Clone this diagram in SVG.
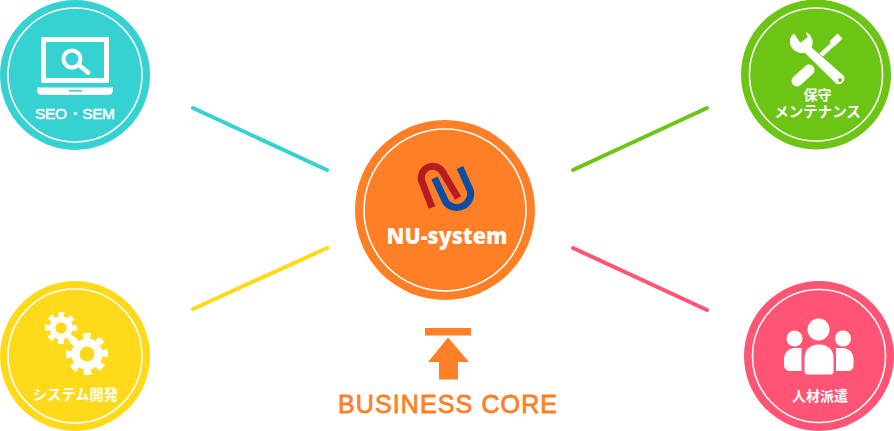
<svg xmlns="http://www.w3.org/2000/svg" width="894" height="431" viewBox="0 0 894 431">
<style>
.ring{fill:none;stroke:#fff;stroke-width:1.6}
.lbl{font-family:"Noto Sans CJK JP","Noto Sans",sans-serif;font-weight:700;font-size:14px;fill:#fff;text-anchor:middle}
.con{fill:none;stroke-width:4;stroke-linecap:round}
.w{fill:#fff}
.ln{fill:none;stroke:#fff;stroke-linecap:round}
</style>
<rect width="894" height="431" fill="#fff"/>
<g id="connectors">
<line class="con" x1="193" y1="108" x2="327" y2="170" stroke="#36D1D1"/>
<line class="con" x1="193" y1="309" x2="327" y2="248" stroke="#FFD91A"/>
<line class="con" x1="573" y1="170" x2="707" y2="108" stroke="#6CC514"/>
<line class="con" x1="573" y1="248" x2="707" y2="310" stroke="#FF5473"/>
</g>
<g id="node-seo">
<circle cx="75" cy="75" r="75" fill="#36D1D1"/>
<circle class="ring" cx="75" cy="75" r="67"/>
<path class="w" fill-rule="evenodd" d="M41 37H109V83H41ZM46 42V78H104V42Z"/>
<path class="w" d="M37 87.500H113V90C113 93 111 95 108 95H42C39 95 37 93 37 90Z"/>
<rect x="69" y="90" width="13" height="1.600" fill="#36D1D1"/>
<circle cx="72" cy="59" r="8.500" fill="none" stroke="#fff" stroke-width="4"/>
<line class="ln" x1="80" y1="66" x2="88" y2="72.500" stroke-width="4.500"/>
<text x="75" y="119" font-family="Liberation Sans, sans-serif" font-size="15.500" fill="#fff" stroke="#fff" stroke-width=".5" text-anchor="middle" textLength="80" lengthAdjust="spacing">SEO・SEM</text>
</g>
<g id="node-maintenance">
<circle cx="816" cy="74.500" r="75" fill="#6CC514"/>
<circle class="ring" cx="816" cy="74.500" r="66.500"/>
<line class="ln" x1="797" y1="81" x2="809" y2="70" stroke-width="11"/>
<line x1="820" y1="56" x2="834" y2="43" stroke="#fff" stroke-width="4.500"/>
<line x1="832" y1="44" x2="840" y2="36" stroke="#fff" stroke-width="7"/>
<path class="w" stroke="#6CC514" stroke-width="1.500" paint-order="stroke" d="M794 33.500L800.300 42.700L807.700 37.300L805.700 31.700C812 35 814.500 42 811.500 47.500L844 76C846 81 841 86 836 83.500L805 53C798 54 791 50 790 43C789.500 39 791 35.500 794 33.500Z"/>
<circle cx="840" cy="80" r="2" fill="#6CC514"/>
<text class="lbl" x="817.500" y="100">保守</text>
<text class="lbl" x="817.500" y="117" style="font-size:14.500px">メンテナンス</text>
</g>
<g id="node-dev">
<circle cx="75" cy="356" r="75" fill="#FFD91A"/>
<circle class="ring" cx="75" cy="356" r="67"/>
<g fill="none" stroke="#fff">
<circle cx="61" cy="328" r="8.700" stroke-width="6"/>
<circle cx="61" cy="328" r="13.500" stroke-width="5" stroke-dasharray="5.600 5" transform="rotate(-12 61 328)"/>
<circle cx="87" cy="354" r="11.500" stroke-width="8"/>
<circle cx="87" cy="354" r="18" stroke-width="6" stroke-dasharray="7.200 6.940" transform="rotate(-14 87 354)"/>
</g>
<text class="lbl" x="75.500" y="400" style="font-size:14.300px">システム開発</text>
</g>
<g id="node-staff">
<circle cx="819" cy="356" r="75" fill="#FF5473"/>
<circle class="ring" cx="819" cy="356" r="66.500"/>
<circle class="w" cx="818.500" cy="329.500" r="11"/>
<circle class="w" cx="794.500" cy="338.500" r="8"/>
<circle class="w" cx="843" cy="338.500" r="8"/>
<path class="w" d="M804.500 358C804.500 350 810 344.500 819 344.500C828 344.500 833.500 350 833.500 358V371.500C833.500 373.500 832 374.500 830.500 374.500H807.500C806 374.500 804.500 373.500 804.500 371.500Z"/>
<path class="w" d="M801.500 348H795C788.500 348 784 353 784 359V365C784 369 787 371 790 371H801.500Z"/>
<path class="w" d="M836 348H842.500C849 348 853.500 353 853.500 359V365C853.500 369 850.500 371 847.500 371H836Z"/>
<text class="lbl" x="820" y="401">人材派遣</text>
</g>
<g id="node-core">
<circle cx="445" cy="210" r="90" fill="#FF7F27"/>
<circle class="ring" cx="445" cy="210" r="81"/>
<path fill="none" stroke="#B71C23" stroke-width="7" d="M432 207.500L422.500 183A11.500 11.500 0 0 1 443 172.500L458 198"/>
<path fill="none" stroke="#0D4DA1" stroke-width="7" d="M434.500 178L446 202.500A14 14 0 0 0 470.500 191L460 167.500"/>
<text x="447" y="244" font-family="Open Sans, sans-serif" font-size="23.500" font-weight="800" fill="#fff" text-anchor="middle" textLength="121" lengthAdjust="spacingAndGlyphs">NU-system</text>
</g>
<g id="business-core">
<rect x="425" y="328" width="46" height="7.500" fill="#FF7F27"/>
<path fill="#FF7F27" d="M448 337.500L469 362H458V379.500H439V362H428Z"/>
<text x="447.500" y="413" font-family="Liberation Sans, sans-serif" font-size="25px" fill="#FF7F27" stroke="#FF7F27" stroke-width=".8" text-anchor="middle" textLength="219" lengthAdjust="spacing">BUSINESS CORE</text>
</g>
</svg>
